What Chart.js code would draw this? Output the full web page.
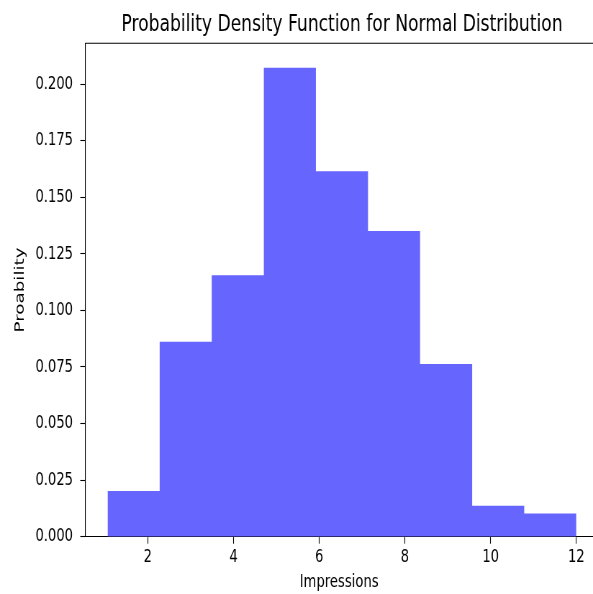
<!DOCTYPE html>
<html>
<head>
<meta charset="utf-8">
<script src="https://cdn.jsdelivr.net/npm/chart.js@4.4.1/dist/chart.umd.min.js"></script>
<style>
  html, body { margin: 0; padding: 0; background: #fff; overflow: hidden; }
  #c { display: block; }
</style>
</head>
<body>
<canvas id="c" width="824" height="594" style="width:593px;height:594px"></canvas>
<script>
// Histogram data
const binEdges = [1.06, 2.276, 3.491, 4.707, 5.922, 7.138, 8.353, 9.569, 10.784, 12.0];
const densities = [0.0202, 0.0861, 0.1155, 0.2072, 0.1614, 0.1351, 0.0763, 0.0137, 0.0103];
const xTicks = [2, 4, 6, 8, 10, 12];
const yTicks = [0.000, 0.025, 0.050, 0.075, 0.100, 0.125, 0.150, 0.175, 0.200];
const titleText = 'Probability Density Function for Normal Distribution';
const xLabel = 'Impressions';
const yLabel = 'Proability';

const points = densities.map((v, i) => ({ x: binEdges[i], y: v }));
points.push({ x: binEdges[binEdges.length - 1], y: densities[densities.length - 1] });

const FONT = 'DejaVu Sans';

const spinePlugin = {
  id: 'spines',
  afterLayout(chart) {
    // matplotlib centres the title over the full (partly cropped) axes box
    const t = chart.titleBlock;
    if (t) { t.left += 4; t.right += 4; }
  },
  afterDraw(chart) {
    const { ctx, chartArea } = chart;
    ctx.save();
    ctx.strokeStyle = '#000';
    ctx.lineWidth = 1.1;
    ctx.beginPath();
    ctx.moveTo(chartArea.left, chartArea.top);
    ctx.lineTo(chart.width, chartArea.top);
    ctx.stroke();
    ctx.restore();
  }
};

new Chart(document.getElementById('c'), {
  type: 'line',
  data: {
    datasets: [{
      data: points,
      stepped: 'before',
      fill: 'origin',
      backgroundColor: '#6666ff',
      borderColor: 'rgba(0,0,0,0)',
      borderWidth: 0,
      pointRadius: 0,
      pointHoverRadius: 0
    }]
  },
  options: {
    responsive: false,
    devicePixelRatio: 1,
    animation: false,
    layout: { padding: 0 },
    plugins: {
      legend: { display: false },
      tooltip: { enabled: false },
      title: {
        display: true,
        text: titleText,
        fullSize: false,
        color: '#000',
        font: { family: FONT, size: 23.8, weight: 'normal', lineHeight: 1.2 },
        padding: { top: 10.4, bottom: 4.3 }
      }
    },
    scales: {
      x: {
        type: 'linear',
        min: 0.54,
        max: 12.389,
        afterBuildTicks(scale) { scale.ticks = xTicks.map(v => ({ value: v })); },
        afterFit(scale) { scale.height = 57.3; },
        ticks: {
          color: '#000',
          padding: 3,
          maxRotation: 0,
          font: { family: FONT, size: 18.3, lineHeight: 1.2 },
          callback: v => String(v)
        },
        grid: {
          display: true,
          drawOnChartArea: false,
          drawTicks: true,
          tickLength: 7,
          tickColor: '#000',
          tickWidth: 1.1
        },
        border: { display: true, color: '#000', width: 1.1 },
        title: {
          display: true,
          text: xLabel,
          color: '#000',
          font: { family: FONT, size: 18.3, lineHeight: 1.2 },
          padding: { top: 0, bottom: 0.7 }
        }
      },
      y: {
        type: 'linear',
        min: 0,
        max: 0.218,
        afterBuildTicks(scale) { scale.ticks = yTicks.map(v => ({ value: v })); },
        afterFit(scale) { scale.width = 118.5; },
        ticks: {
          color: '#000',
          padding: 10,
          font: { family: FONT, size: 18.3, lineHeight: 1.2 },
          callback: v => Number(v).toFixed(3)
        },
        grid: {
          display: true,
          drawOnChartArea: false,
          drawTicks: true,
          tickLength: 7,
          tickColor: '#000',
          tickWidth: 1.1
        },
        border: { display: true, color: '#000', width: 1.1 },
        title: {
          display: true,
          text: yLabel,
          color: '#000',
          font: { family: FONT, size: 18.3, lineHeight: 1.2 },
          padding: { top: 17.2, bottom: 0 }
        }
      }
    }
  },
  plugins: [spinePlugin]
});
</script>
</body>
</html>
